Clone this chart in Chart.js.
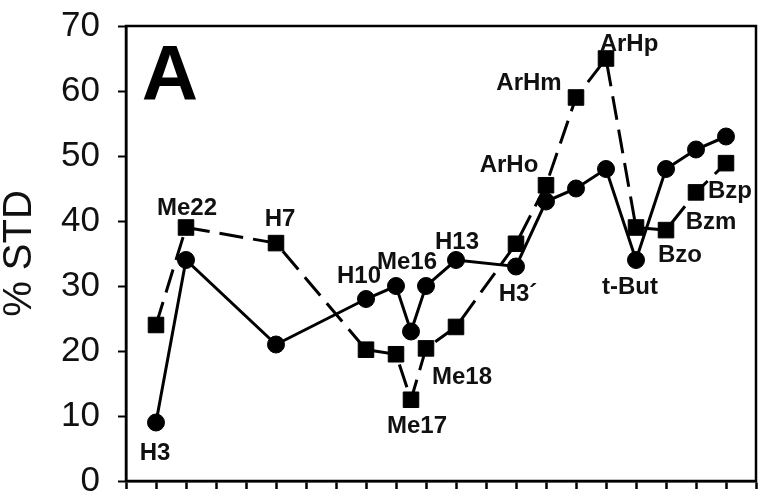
<!DOCTYPE html>
<html>
<head>
<meta charset="utf-8">
<script src="https://cdn.jsdelivr.net/npm/chart.js@4/dist/chart.umd.min.js"></script>
<style>
  html, body { margin: 0; padding: 0; background: #fff; overflow: hidden; }
  canvas { display: block; }
</style>
</head>
<body>
<canvas id="stdChart" width="759" height="494"></canvas>
<script>
// positions along the x axis (tick units), shared by both series
const positions = [1, 2, 5, 8, 9, 9.5, 10, 11, 13, 14, 15, 16, 17, 18, 19, 20];
// circles, solid line
const circleValues = [9, 34, 21, 28, 30, 23, 30, 34, 33, 43, 45, 48, 34, 48, 51, 53];
// squares, dashed line
const squareValues = [24, 39, 36.6, 20.2, 19.5, 12.5, 20.4, 23.7, 36.5, 45.5, 59, 65, 39, 38.6, 44.4, 48.9];
const yTicks = [0, 10, 20, 30, 40, 50, 60, 70];

// point labels: which series / point, and where the text sits relative to it
const pointLabels = [
    { text: 'H3', ds: 0, i: 0, dx: -1, dy: 28 },
    { text: 'Me22', ds: 1, i: 1, dx: 1, dy: -22 },
    { text: 'H7', ds: 1, i: 2, dx: 4, dy: -26 },
    { text: 'H10', ds: 0, i: 3, dx: -7, dy: -25 },
    { text: 'Me16', ds: 0, i: 4, dx: 11, dy: -26 },
    { text: 'Me17', ds: 1, i: 5, dx: 6, dy: 24 },
    { text: 'Me18', ds: 1, i: 6, dx: 36, dy: 27 },
    { text: 'H13', ds: 0, i: 7, dx: 1, dy: -20 },
    { text: 'H3\u00B4', ds: 0, i: 8, dx: 2, dy: 25 },
    { text: 'ArHo', ds: 1, i: 9, dx: -37, dy: -22 },
    { text: 'ArHm', ds: 1, i: 10, dx: -47, dy: -17 },
    { text: 'ArHp', ds: 1, i: 11, dx: 23, dy: -17 },
    { text: 't-But', ds: 0, i: 12, dx: -6, dy: 25 },
    { text: 'Bzo', ds: 1, i: 13, dx: 14, dy: 23 },
    { text: 'Bzm', ds: 1, i: 14, dx: 15, dy: 28 },
    { text: 'Bzp', ds: 1, i: 15, dx: 4, dy: 26 }
];

const FONT = '"Liberation Sans", Arial, sans-serif';

const annotate = {
    id: 'annotate',
    afterDraw(chart) {
        const ctx = chart.ctx;
        const area = chart.chartArea;
        ctx.save();
        // frame round the plot
        ctx.strokeStyle = '#000';
        ctx.lineWidth = 2.5;
        ctx.strokeRect(area.left, area.top, area.right - area.left, area.bottom - area.top);

        ctx.fillStyle = '#111';
        ctx.textAlign = 'center';
        ctx.textBaseline = 'alphabetic';
        ctx.font = 'bold 24px ' + FONT;
        pointLabels.forEach(l => {
            const pt = chart.getDatasetMeta(l.ds).data[l.i];
            ctx.fillText(l.text, pt.x + l.dx, pt.y + l.dy + 9);
        });

        // panel letter
        ctx.fillStyle = '#000';
        ctx.font = 'bold 78px ' + FONT;
        ctx.fillText('A', area.left + 44, area.top + 74);
        ctx.restore();
    }
};

const noPad = s => {
    s.paddingTop = 0;
    s.paddingBottom = 0;
    s.paddingLeft = 0;
    s.paddingRight = 0;
};

new Chart(document.getElementById('stdChart'), {
    type: 'line',
    data: {
        datasets: [{
            data: positions.map((x, k) => ({ x: x, y: circleValues[k] })),
            borderColor: '#000',
            backgroundColor: '#000',
            borderWidth: 3,
            pointStyle: 'circle',
            pointRadius: 8.5,
            pointBorderWidth: 1,
            tension: 0
        }, {
            data: positions.map((x, k) => ({ x: x, y: squareValues[k] })),
            borderColor: '#000',
            backgroundColor: '#000',
            borderWidth: 3,
            borderDash: [24, 10],
            pointStyle: 'rect',
            pointRadius: 11,
            pointBorderWidth: 1,
            tension: 0
        }]
    },
    options: {
        responsive: false,
        animation: false,
        clip: false,
        layout: { autoPadding: false, padding: { top: 26, right: 3, left: 0, bottom: 0 } },
        plugins: {
            legend: { display: false },
            tooltip: { enabled: false }
        },
        scales: {
            x: {
                type: 'linear',
                min: 0,
                max: 21,
                afterFit: s => { s.height = 13; noPad(s); },
                ticks: { stepSize: 1, display: false },
                grid: {
                    drawOnChartArea: false,
                    tickLength: 8,
                    tickWidth: 2.5,
                    tickColor: '#000'
                },
                border: { color: '#000', width: 2.5 }
            },
            y: {
                min: 0,
                max: 70,
                afterFit: s => { s.width = 126; noPad(s); },
                afterBuildTicks: s => { s.ticks = yTicks.map(v => ({ value: v })); },
                ticks: {
                    color: '#111',
                    padding: 18,
                    font: { family: FONT, size: 35 }
                },
                grid: {
                    drawOnChartArea: false,
                    tickLength: 8,
                    tickWidth: 2,
                    tickColor: '#000'
                },
                border: { color: '#000', width: 2.5 },
                title: {
                    display: true,
                    text: '% STD',
                    color: '#111',
                    padding: 0,
                    font: { family: FONT, size: 40, lineHeight: 1 }
                }
            }
        }
    },
    plugins: [annotate]
});
</script>
</body>
</html>
